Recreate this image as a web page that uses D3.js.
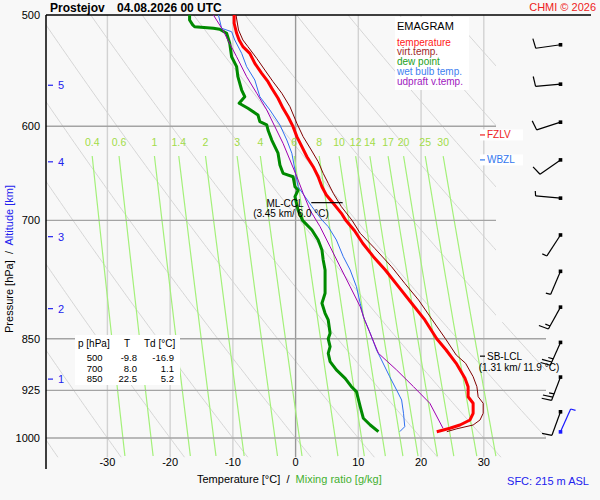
<!DOCTYPE html>
<html>
<head>
<meta charset="utf-8">
<script src="https://cdn.jsdelivr.net/npm/d3@7"></script>
<style>
  body { margin: 0; background: #f8f8f8; }
  svg { font-family: Arial, "Liberation Sans", sans-serif; }
</style>
</head>
<body>
<div id="chart"></div>
<script>
// sounding values: [pressure hPa, value °C]
const temperature = [[500,-9.8],[506.8,-9.8],[515.2,-9.4],[520.9,-9.0],[526.6,-8.4],[532.4,-7.3],[541.2,-6.5],[550.1,-5.4],[557.7,-4.4],[563.8,-3.8],[573.1,-2.8],[582.6,-2.0],[590.7,-1.2],[600.4,-0.4],[610.3,0.2],[620.4,1.0],[630.7,1.8],[641.1,2.8],[651.7,3.6],[662.5,4.2],[671.5,4.9],[680.7,6.0],[692,7.3],[700,8.0],[712,9.4],[726.8,10.7],[742.9,12.4],[759.3,14.3],[780.4,16.4],[801.9,18.5],[824.1,20.6],[850,22.5],[865.7,24.0],[884.8,25.6],[906.8,27.0],[919.4,27.5],[934.6,27.5],[944.7,28.3],[960.3,28.3],[970.9,27.8],[978.9,26.2],[984.2,24.6],[989.7,22.5]];
const virtTemp = [[500,-9.5],[512.4,-9.1],[520.9,-8.4],[526.6,-7.6],[536.8,-6.2],[547.2,-4.9],[557.7,-3.6],[568.4,-2.2],[581.1,-0.9],[597.1,0.2],[610.3,1.2],[623.8,2.5],[635.9,3.6],[648.1,4.4],[658.8,5.2],[669.6,6.0],[684.5,7.3],[700,9.0],[715,10.3],[732.8,12.6],[755.3,15.3],[776.1,17.4],[797.6,19.6],[824.1,21.8],[850,23.9],[872.8,25.6],[884.8,27.1],[904.4,28.3],[919.4,28.9],[934.6,29.1],[944.7,29.9],[960.3,29.9],[970.9,29.4],[978.9,28.3],[985,25.7],[989.7,24.1]];
const dewPoint = [[500,-16.9],[504.1,-16.9],[508.2,-16.4],[509.7,-16.1],[511,-13.1],[511.8,-12.1],[515.2,-11.0],[523.7,-10.5],[535.4,-10.2],[544.2,-9.4],[553.2,-9.2],[565.4,-8.6],[571.6,-8.1],[577.8,-9.0],[582.6,-7.6],[589,-6.0],[595.5,-5.7],[598.7,-4.6],[603.7,-4.4],[613.7,-3.8],[627.1,-2.8],[639.3,-2.5],[648.1,-2.0],[651.7,-0.4],[662.5,-0.1],[666.1,0.4],[673.4,-0.1],[688.3,0.4],[700,1.1],[711.1,2.6],[722.9,3.6],[734.8,4.2],[747,4.4],[759.3,4.7],[776.1,4.7],[788.9,4.7],[801.9,4.2],[815.2,4.7],[824.1,5.2],[842.3,5.5],[850,5.2],[861,5.5],[870.4,5.2],[882.4,5.5],[894.5,6.5],[906.8,7.9],[919.4,8.9],[926.9,9.7],[950,10.3],[968.2,10.8],[978.9,11.9],[989.7,13.2]];
const wetBulb = [[500,-12.3],[511,-11.8],[513.9,-10.2],[520.9,-9.7],[532.4,-8.6],[544.2,-7.8],[556.2,-6.5],[571.6,-5.7],[584.2,-4.1],[598.7,-2.5],[613.7,-1.4],[627.1,-0.6],[644.6,-0.1],[662.5,0.4],[673.4,1.5],[684.5,2.6],[699.6,4.2],[707.3,5.2],[722.9,6.5],[742.9,7.6],[759.3,8.7],[780.4,9.7],[801.9,10.3],[819.7,10.8],[842.3,11.9],[865.7,12.9],[880,13.7],[904.4,15.0],[924.4,16.1],[939.6,16.9],[960.3,17.2],[981.6,17.4],[989.7,16.6]];
const updraft = [[500,-13.1],[512.4,-11.6],[520.9,-10.8],[535.4,-9.4],[553.2,-7.8],[568.4,-6.2],[584.2,-4.6],[600.4,-3.3],[617,-2.0],[634.1,-0.9],[651.7,0.2],[669.6,1.2],[688.3,2.3],[707.3,3.9],[730.9,5.5],[755.3,7.1],[780.4,8.7],[806.4,10.3],[824.1,11.0],[870.4,13.2],[894.5,16.1],[919.4,18.8],[944.7,21.4],[984.2,23.5]];

// axes / grid values
const pressureTicks = [500, 600, 700, 850, 925, 1000];
const tempTicks = [-30, -20, -10, 0, 10, 20, 30];
const mixRatios = [0.4, 0.6, 1, 1.4, 2, 3, 4, 6, 8, 10, 12, 14, 17, 20, 25, 30];
const thetas = d3.range(-40, 151, 10);
const altKm = [1, 2, 3, 4, 5];
const altP = [908, 809, 719, 636, 561];

// wind barbs
const windP = [958, 905, 855, 807, 761, 717, 675, 634, 596, 560, 525];
const windDir = [200, 201, 204, 209, 203, 213, 275, 235, 252, 265, 262];
const windKt = [10, 25, 25, 15, 5, 5, 5, 10, 10, 10, 10];
const sfcWind = { p: 990, dir: 24, kt: 5 };

// table
const tableP = [500, 700, 850];
const tableT = [-9.8, 8.0, 22.5];
const tableTd = [-16.9, 1.1, 5.2];

// marked levels
const fzlvP = 608.6, wbzlP = 634, sbLclP = 874.5, cclP = 680;

const W = 600, H = 500;
const x = d3.scaleLinear().domain([-30, 30]).range([107.4, 483.8]);
const y = d3.scaleLog().domain([500, 1000]).range([15, 438]);
const pBottom = 1032;

const svg = d3.select('#chart').append('svg')
    .attr('width', W).attr('height', H)
    .attr('viewBox', `0 0 ${W} ${H}`);
svg.append('rect').attr('width', W).attr('height', H).attr('fill', '#f8f8f8');

svg.append('defs').append('clipPath').attr('id', 'plotClip')
    .append('polygon')
    .attr('points', [[46,15],[496,15],[496,322],[546,322],[546,458],[46,458]].join(' '));

const grid = svg.append('g').attr('clip-path', 'url(#plotClip)');
const line = d3.line().x(d => x(d[1])).y(d => y(d[0]));

// dewpoint (°C) of a mixing ratio line at pressure p
function mixTd(w, p) {
    const e = w * p / (622 + w);
    const l = Math.log(e / 6.112);
    return 243.5 * l / (17.67 - l);
}

// dry adiabats
const pSteps = d3.range(500, pBottom + 1, 4);
grid.selectAll('.dry').data(thetas).enter().append('path')
    .attr('d', th => line(pSteps.map(p => [p, (th + 273.15) * Math.pow(p / 1000, 0.2857) - 273.15])))
    .attr('fill', 'none').attr('stroke', '#d6d6d6').attr('stroke-width', 1);

// isotherms
grid.selectAll('.iso').data(tempTicks).enter().append('line')
    .attr('x1', d => x(d)).attr('x2', d => x(d))
    .attr('y1', y(500)).attr('y2', y(pBottom))
    .attr('stroke', d => d === 0 ? '#999' : '#d2d2d2')
    .attr('stroke-width', 1.4);

// mixing ratio lines
const pMix = d3.range(630, pBottom + 1, 4);
grid.selectAll('.mix').data(mixRatios).enter().append('path')
    .attr('d', w => line(pMix.map(p => [p, mixTd(w, p)])))
    .attr('fill', 'none').attr('stroke', '#a4f07a').attr('stroke-width', 1.2);

// isobars
grid.selectAll('.isobar').data(pressureTicks.slice(1)).enter().append('line')
    .attr('x1', 46).attr('x2', 546)
    .attr('y1', d => y(d)).attr('y2', d => y(d))
    .attr('stroke', '#a4a4a4').attr('stroke-width', 1.4);

svg.selectAll('.mixLabel').data(mixRatios).enter().append('text')
    .attr('x', w => x(mixTd(w, 630))).attr('y', 142).attr('dy', '0.35em')
    .attr('text-anchor', 'middle').attr('font-size', 10.5)
    .attr('fill', '#a2dc48')
    .text(d => d);

// frame
svg.append('line').attr('x1', 46).attr('x2', 591).attr('y1', 15).attr('y2', 15)
    .attr('stroke', '#000').attr('stroke-width', 1.5);
svg.append('line').attr('x1', 46).attr('x2', 46).attr('y1', 15).attr('y2', 469)
    .attr('stroke', '#000').attr('stroke-width', 1.5);

// pressure labels
svg.selectAll('.pl').data(pressureTicks).enter().append('text')
    .attr('x', 40).attr('y', d => y(d)).attr('dy', '0.35em')
    .attr('text-anchor', 'end').attr('font-size', 11).text(d => d);

// temperature labels
svg.selectAll('.tl').data(tempTicks).enter().append('text')
    .attr('x', d => x(d)).attr('y', 462).attr('dy', '0.35em')
    .attr('text-anchor', 'middle').attr('font-size', 11).text(d => d);

// altitude ticks
const altG = svg.selectAll('.alt').data(altKm).enter().append('g');
altG.append('line').attr('x1', 48).attr('x2', 53)
    .attr('y1', (d, i) => y(altP[i])).attr('y2', (d, i) => y(altP[i]))
    .attr('stroke', '#2222ee').attr('stroke-width', 1.2);
altG.append('text').attr('x', 58).attr('y', (d, i) => y(altP[i])).attr('dy', '0.35em')
    .attr('font-size', 11).attr('fill', '#2222ee').text(d => d);

// profiles
function profile(data, color, width) {
    svg.append('path').datum(data).attr('d', line)
        .attr('fill', 'none').attr('stroke', color).attr('stroke-width', width)
        .attr('stroke-linejoin', 'round');
}
profile(dewPoint, '#008a00', 3);
profile(wetBulb, '#2f6ff0', 1);
profile(updraft, '#a000b0', 1);
profile(virtTemp, '#800000', 1);
profile(temperature, '#ff0000', 3);

// ML-CCL
svg.append('line').attr('x1', x(2.5)).attr('x2', x(7.5)).attr('y1', y(cclP)).attr('y2', y(cclP))
    .attr('stroke', '#000').attr('stroke-width', 1.2);
svg.append('text').attr('x', 285).attr('y', 203).attr('dy', '0.35em')
    .attr('text-anchor', 'middle').attr('font-size', 10).text('ML-CCL');
svg.append('text').attr('x', 291).attr('y', 213.5).attr('dy', '0.35em')
    .attr('text-anchor', 'middle').attr('font-size', 10).text('(3.45 km/ 6.0 °C)');

// SB-LCL
svg.append('line').attr('x1', 480).attr('x2', 485).attr('y1', y(sbLclP)).attr('y2', y(sbLclP))
    .attr('stroke', '#000').attr('stroke-width', 1.2);
svg.append('text').attr('x', 487).attr('y', y(sbLclP)).attr('dy', '0.35em')
    .attr('font-size', 10).text('SB-LCL');
svg.append('text').attr('x', 519).attr('y', y(sbLclP) + 11.5).attr('dy', '0.35em')
    .attr('text-anchor', 'middle').attr('font-size', 10).text('(1.31 km/ 11.9 °C)');

// FZLV / WBZL
[[fzlvP, 'FZLV', '#ee2222'], [wbzlP, 'WBZL', '#3377ee']].forEach(([p, t, c]) => {
    svg.append('rect').attr('x', 480).attr('y', y(p) - 5.5).attr('width', 43).attr('height', 11)
        .attr('fill', '#fff');
    svg.append('line').attr('x1', 480).attr('x2', 485).attr('y1', y(p)).attr('y2', y(p))
        .attr('stroke', c).attr('stroke-width', 1.2);
    svg.append('text').attr('x', 487).attr('y', y(p)).attr('dy', '0.35em')
        .attr('font-size', 10).attr('fill', c).text(t);
});

// wind barbs
function barb(p, dir, kt, color) {
    const cx = 560.5, cy = y(p), len = 25;
    const a = dir * Math.PI / 180;
    const sx = Math.sin(a), sy = -Math.cos(a);
    const px = -sy, py = sx;
    const g = svg.append('g').attr('stroke', color).attr('stroke-width', 1.2).attr('fill', 'none');
    g.append('line').attr('x1', cx).attr('y1', cy)
        .attr('x2', cx + len * sx).attr('y2', cy + len * sy);
    let pos = len;
    const full = Math.floor(kt / 10), half = (kt % 10) >= 5 ? 1 : 0;
    const feathers = d3.range(full).map(() => 10).concat(half ? [5] : []);
    feathers.forEach(fl => {
        const bx = cx + pos * sx, by = cy + pos * sy;
        g.append('line').attr('x1', bx).attr('y1', by)
            .attr('x2', bx + fl * (px + 0.15 * sx)).attr('y2', by + fl * (py + 0.15 * sy));
        pos -= 3.5;
    });
    svg.append('rect').attr('x', cx - 1.8).attr('y', cy - 1.8).attr('width', 3.6).attr('height', 3.6)
        .attr('fill', color);
}
windP.forEach((p, i) => barb(p, windDir[i], windKt[i], '#000'));
barb(sfcWind.p, sfcWind.dir, sfcWind.kt, '#1a1aff');

// legend
svg.append('rect').attr('x', 395).attr('y', 17).attr('width', 74).attr('height', 73).attr('fill', '#fff');
svg.append('text').attr('x', 397).attr('y', 26).attr('dy', '0.35em').attr('font-size', 11).text('EMAGRAM');
const legendItems = ['temperature', 'virt.temp.', 'dew point', 'wet bulb temp.', 'udpraft v.temp.'];
const legendColors = ['#ff2020', '#a02a2a', '#22a022', '#4080f0', '#a020c0'];
svg.selectAll('.leg').data(legendItems).enter().append('text')
    .attr('x', 397).attr('y', (d, i) => 42 + i * 9.9).attr('dy', '0.35em')
    .attr('font-size', 10).attr('fill', (d, i) => legendColors[i]).text(d => d);

// data table
svg.append('rect').attr('x', 75).attr('y', 335).attr('width', 105).attr('height', 50).attr('fill', '#fff');
svg.append('text').attr('x', 78).attr('y', 343.5).attr('dy', '0.35em').attr('font-size', 10).text('p [hPa]');
svg.append('text').attr('x', 127).attr('y', 343.5).attr('dy', '0.35em').attr('text-anchor', 'middle').attr('font-size', 10).text('T');
svg.append('text').attr('x', 144).attr('y', 343.5).attr('dy', '0.35em').attr('font-size', 10).text('Td [°C]');
tableP.forEach((p, i) => {
    const ty = 357.8 + i * 10.4;
    svg.append('text').attr('x', 102.5).attr('y', ty).attr('dy', '0.35em').attr('text-anchor', 'end').attr('font-size', 9.5).text(p);
    svg.append('text').attr('x', 137).attr('y', ty).attr('dy', '0.35em').attr('text-anchor', 'end').attr('font-size', 9.5).text(tableT[i].toFixed(1));
    svg.append('text').attr('x', 174).attr('y', ty).attr('dy', '0.35em').attr('text-anchor', 'end').attr('font-size', 9.5).text(tableTd[i].toFixed(1));
});

// titles
svg.append('text').attr('x', 50).attr('y', 7.5).attr('dy', '0.35em')
    .attr('font-size', 12).attr('font-weight', 'bold').text('Prostejov');
svg.append('text').attr('x', 117).attr('y', 7.5).attr('dy', '0.35em')
    .attr('font-size', 12).attr('font-weight', 'bold').text('04.08.2026 00 UTC');
svg.append('text').attr('x', 596).attr('y', 7.5).attr('dy', '0.35em').attr('text-anchor', 'end')
    .attr('font-size', 11).attr('fill', '#ee2222').text('CHMI © 2026');
svg.append('text').attr('x', 589).attr('y', 481.5).attr('dy', '0.35em').attr('text-anchor', 'end')
    .attr('font-size', 11).attr('fill', '#2222ee').text('SFC: 215 m ASL');

const xt = svg.append('text').attr('x', 197).attr('y', 479).attr('dy', '0.35em')
    .attr('font-size', 11).style('white-space', 'pre');
xt.append('tspan').attr('fill', '#000').text('Temperature [°C]  /  ');
xt.append('tspan').attr('fill', '#44b030').text('Mixing ratio [g/kg]');

const yt = svg.append('text').attr('transform', 'translate(9,259) rotate(-90)')
    .attr('dy', '0.35em').attr('text-anchor', 'middle')
    .attr('font-size', 11).style('white-space', 'pre');
yt.append('tspan').attr('fill', '#000').text('Pressure [hPa]  /  ');
yt.append('tspan').attr('fill', '#2222ee').text('Altitude [km]');
</script>
</body>
</html>
